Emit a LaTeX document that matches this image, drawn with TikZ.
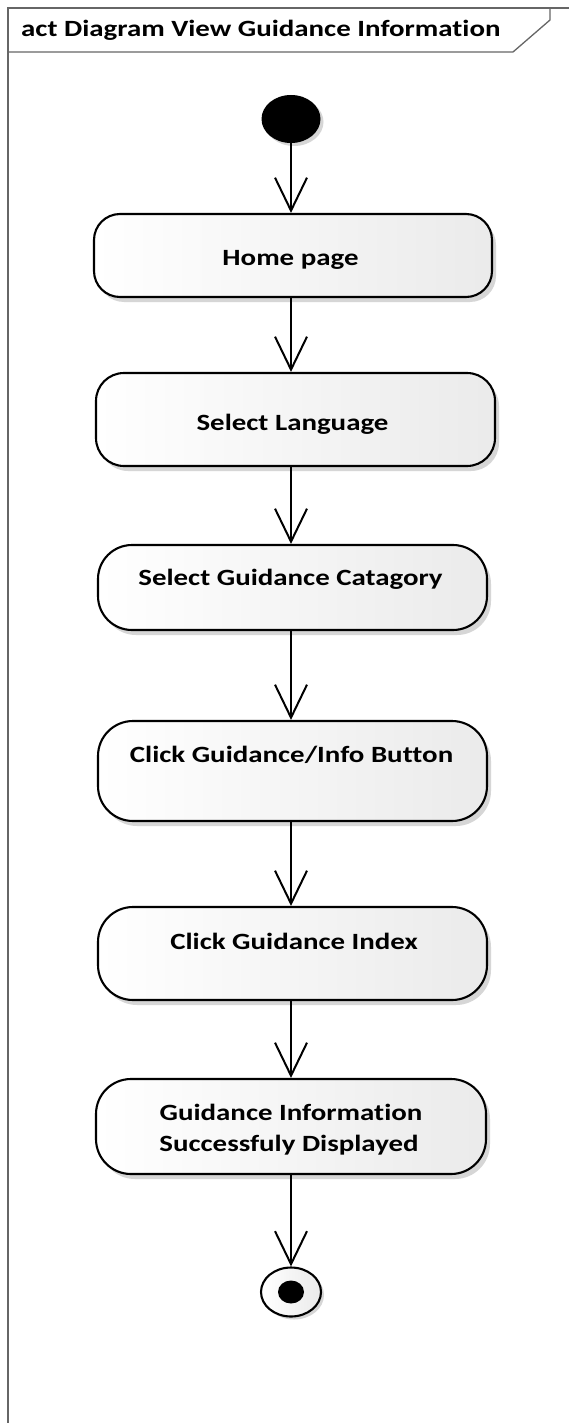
\documentclass[tikz,border=0pt]{standalone}
\usepackage{fontspec}
\setmainfont{Carlito}[Ligatures=NoCommon]
\usetikzlibrary{arrows.meta,shadows,shapes.geometric}
% diagram text is set slightly widened
\newcommand\wtext[1]{\scalebox{1.24}[1]{#1}}
\begin{document}
\begin{tikzpicture}[x=1pt,y=-1pt,
  frameline/.style={draw=black!60, line width=1.3pt},
  act/.style={draw=black, line width=2.1pt, left color=white, right color=black!8,
    inner sep=0pt,
    drop shadow={shadow xshift=4pt, shadow yshift=-5pt, fill=black!20, opacity=0.8}},
  lbl/.style={font=\bfseries\fontsize{23.3}{28}\selectfont, inner sep=0pt},
  initialnode/.style={ellipse, fill=black, minimum width=59pt, minimum height=48pt, inner sep=0pt,
    drop shadow={shadow xshift=3pt, shadow yshift=-3pt, fill=black!20, opacity=0.8}},
  finalnode/.style={ellipse, draw=black, line width=2.1pt, left color=white, right color=black!8,
    minimum width=60pt, minimum height=49pt, inner sep=0pt,
    drop shadow={shadow xshift=3pt, shadow yshift=-3pt, fill=black!20, opacity=0.8}},
  finaldot/.style={ellipse, fill=black, minimum width=26pt, minimum height=23pt, inner sep=0pt},
  flow/.style={line width=2pt, -{Straight Barb[length=33pt, width=32pt]}}]

\fill[white] (0,0) rectangle (569,1423);
\useasboundingbox (0,0) rectangle (569,1423);

% diagram frame and its name tab
\draw[frameline] (569,8) -- (8,8) -- (8,1423);
\draw[frameline] (550,8) -- (550,20) -- (513,52) -- (8,52);
\node[lbl, anchor=base west] (title) at (21,37) {\wtext{act Diagram View Guidance Information}};

% initial node
\node[initialnode] (start) at (291,119) {};

% actions
\node[act, minimum width=398pt, minimum height=83pt, rounded corners=26pt] (home) at (293,255.5) {};
\node[lbl, anchor=base] (homeT) at (290.5,265.7) {\wtext{Home page}};

\node[act, minimum width=399pt, minimum height=93pt, rounded corners=28pt] (lang) at (295.5,419.5) {};
\node[lbl, anchor=base] (langT) at (292.5,430.7) {\wtext{Select Language}};

\node[act, minimum width=389pt, minimum height=85pt, rounded corners=34pt] (cat) at (292.5,587.5) {};
\node[lbl, anchor=base] (catT) at (290.5,585) {\wtext{Select Guidance Catagory}};

\node[act, minimum width=389pt, minimum height=100pt, rounded corners=35pt] (btn) at (292.5,771) {};
\node[lbl, anchor=base] (btnT) at (291.5,762.3) {\wtext{Click Guidance/Info Button}};

\node[act, minimum width=389pt, minimum height=93pt, rounded corners=35pt] (idx) at (292.5,953.5) {};
\node[lbl, anchor=base] (idxT) at (294,949) {\wtext{Click Guidance Index}};

\node[act, minimum width=390pt, minimum height=95pt, rounded corners=35pt] (info) at (291,1126.5) {};
\node[lbl, anchor=base] (infoT1) at (291,1120) {\wtext{Guidance Information}};
\node[lbl, anchor=base] (infoT2) at (289,1151) {\wtext{Successfuly Displayed}};

% final node
\node[finalnode] (end) at (291,1292) {};
\node[finaldot] (endDot) at (end) {};

% control flows
\draw[flow] (start.south) -- (start.south |- home.north);
\draw[flow] (home.south -| start) -- (lang.north -| start);
\draw[flow] (lang.south -| start) -- (cat.north -| start);
\draw[flow] (cat.south -| start) -- (btn.north -| start);
\draw[flow] (btn.south -| start) -- (idx.north -| start);
\draw[flow] (idx.south -| start) -- (info.north -| start);
\draw[flow] (info.south -| start) -- (end.north -| start);
\end{tikzpicture}
\end{document}
